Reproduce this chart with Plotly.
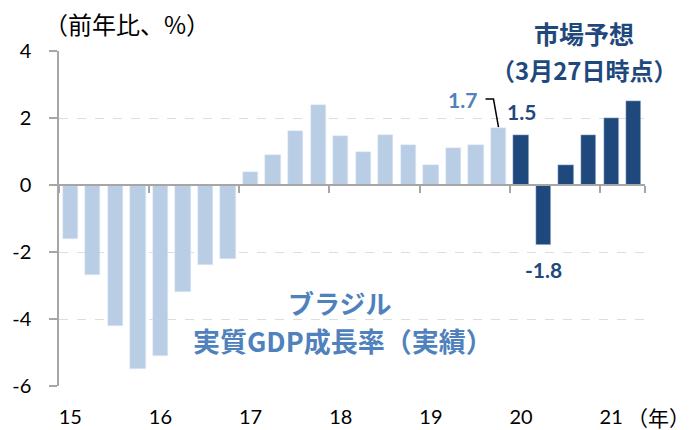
import plotly.graph_objects as go

# ---- data ----
quarters = ["15Q1","15Q2","15Q3","15Q4","16Q1","16Q2","16Q3","16Q4",
            "17Q1","17Q2","17Q3","17Q4","18Q1","18Q2","18Q3","18Q4",
            "19Q1","19Q2","19Q3","19Q4","20Q1","20Q2","20Q3","20Q4",
            "21Q1","21Q2"]
actual_vals = [-1.6, -2.7, -4.2, -5.5, -5.1, -3.2, -2.4, -2.2,
               0.4, 0.9, 1.6, 2.4, 1.45, 1.0, 1.5, 1.2,
               0.6, 1.1, 1.2, 1.7]
forecast_vals = [1.5, -1.8, 0.6, 1.5, 2.0, 2.5]
year_labels = ["15", "16", "17", "18", "19", "20", "21"]
y_ticks = [4, 2, 0, -2, -4, -6]
y_ticktext = [str(v) for v in y_ticks]

LIGHT = "#B9CDE5"
DARK = "#1F497D"
MID = "#4F81BD"
AXIS = "#A6A6A6"
LATIN = "Lato, 'Noto Sans CJK JP', sans-serif"
CJK = "'Noto Sans CJK JP', sans-serif"

n_act = len(actual_vals)
x_act = list(range(n_act))
x_fc = list(range(n_act, n_act + len(forecast_vals)))
n_all = len(quarters)
year_pos = list(range(0, n_all, 4))
boundaries = [p - 0.5 for p in year_pos] + [n_all - 0.5]

fig = go.Figure()
fig.add_trace(go.Bar(x=x_act, y=actual_vals, marker_color=LIGHT, width=0.68,
                     hovertext=quarters[:n_act], showlegend=False))
fig.add_trace(go.Bar(x=x_fc, y=forecast_vals, marker_color=DARK, width=0.68,
                     hovertext=quarters[n_act:], showlegend=False))
# invisible trace to activate the zero-line axis
fig.add_trace(go.Scatter(x=list(range(n_all)), y=[0] * n_all, xaxis="x2",
                         mode="markers", marker=dict(opacity=0), hoverinfo="skip",
                         showlegend=False))

xr = [-0.5, n_all - 0.5]
fig.update_layout(
    width=689, height=430,
    margin=dict(l=59, r=44, t=51, b=44),
    paper_bgcolor="white", plot_bgcolor="white",
    bargap=0,
    xaxis=dict(range=xr, tickvals=year_pos, ticktext=year_labels,
               showgrid=False, zeroline=False, showline=False, ticks="",
               ticklabelstandoff=17, automargin=False,
               tickfont=dict(family=LATIN, size=20, color="black")),
    xaxis2=dict(range=xr, overlaying="x", anchor="free", position=0.6,
                tickvals=boundaries, ticks="outside", ticklen=7, tickwidth=1.5,
                tickcolor=AXIS, showline=True, linecolor=AXIS, linewidth=1.5,
                showticklabels=False, showgrid=False, zeroline=False,
                automargin=False),
    yaxis=dict(range=[-6, 4], tickvals=y_ticks, ticktext=y_ticktext,
               ticks="outside", ticklen=8,
               tickwidth=1.5, tickcolor=AXIS, showline=True, linecolor=AXIS,
               linewidth=1.5, showgrid=True, gridcolor="#DDDDDD", griddash="dash",
               gridwidth=1, zeroline=False, ticklabelstandoff=14, automargin=False,
               tickfont=dict(family=LATIN, size=20, color="black")),
)

# value labels
i17 = n_act - 1
fig.add_annotation(x=i17, y=actual_vals[-1], text="<b>1.7</b>", showarrow=False,
                   xshift=-36, yshift=29, xanchor="center", yanchor="middle",
                   font=dict(family=LATIN, size=21, color=MID))
fig.add_shape(type="path", xref="x", yref="y", xsizemode="pixel", ysizemode="pixel",
              xanchor=i17, yanchor=actual_vals[-1],
              path="M-13,29 L-5,29 L0,1", line=dict(color="black", width=1.5))
fig.add_annotation(x=x_fc[0], y=forecast_vals[0], text="<b>1.5</b>", showarrow=False,
                   yshift=23, xanchor="center", yanchor="middle",
                   font=dict(family=LATIN, size=21, color=DARK))
fig.add_annotation(x=x_fc[1], y=forecast_vals[1], text="<b>-1.8</b>", showarrow=False,
                   yshift=-24, xanchor="center", yanchor="middle",
                   font=dict(family=LATIN, size=21, color=DARK))

# text blocks
def note(x, y, text, size, color, xanchor="center"):
    fig.add_annotation(xref="paper", yref="paper", x=x, y=y, text=text,
                       showarrow=False, xanchor=xanchor, yanchor="middle",
                       font=dict(family=CJK, size=size, color=color))

note(-0.029, 1.0806, "（前年比、%）", 24, "black", xanchor="left")
note(0.966, -0.0925, "（年）", 21, "black", xanchor="left")
note(0.896, 1.054, "<b>市場予想</b>", 25, DARK)
note(0.896, 0.946, "<b>（3月27日時点）</b>", 24, DARK)
note(0.4795, 0.2507, "<b>ブラジル</b>", 26, MID)
note(0.484, 0.137, "<b>実質GDP成長率（実績）</b>", 27, MID)

fig.write_html("out.html", config={"displayModeBar": False},
               post_script="document.body.style.margin='0';"
                           "document.body.style.padding='0';")
